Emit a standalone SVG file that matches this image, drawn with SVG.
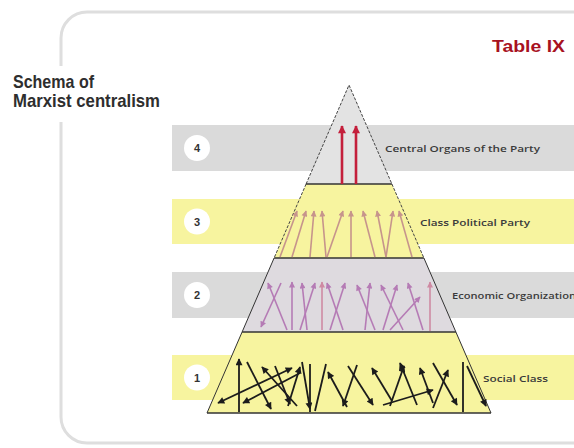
<svg xmlns="http://www.w3.org/2000/svg" width="574" height="448" viewBox="0 0 574 448">
  <style>
    .title { font-family: "Liberation Sans", Arial, sans-serif; font-weight: bold; font-size: 19px; fill: #2e2e2e; }
    .table { font-family: "Liberation Sans", Arial, sans-serif; font-weight: bold; font-size: 16px; fill: #a8121f; }
    .band-gray { fill: #dadada; }
    .band-yellow { fill: #f7f49f; }
    .num-bg { fill: #ffffff; }
    .num { font-family: "Liberation Sans", Arial, sans-serif; font-weight: bold; font-size: 11px; fill: #333; text-anchor: middle; }
    .label { font-family: "Open Sans", "Liberation Sans", Arial, sans-serif; font-weight: 600; font-size: 9.5px; fill: #3a3a3a; }
    .side { stroke: #444; stroke-width: 1; stroke-dasharray: 3 1.5; fill: none; }
    .side-solid { stroke: #333; stroke-width: 1; fill: none; }
    .rung { stroke: #333; stroke-width: 1.6; }
    .a-red { stroke: #c41f3b; stroke-width: 2.6; fill: none; marker-end: url(#h-red); }
    .a-tan { stroke: #c6948c; stroke-width: 1.6; fill: none; marker-end: url(#h-tan); }
    .a-orc { stroke: #b57bb5; stroke-width: 1.6; fill: none; marker-end: url(#h-orc); }
    .a-pnk { stroke: #cf8aa3; stroke-width: 1.6; fill: none; marker-end: url(#h-pnk); }
    .a-blk { stroke: #1c1c1c; stroke-width: 1.8; fill: none; marker-end: url(#h-blk); }
    .both { marker-start: url(#h-blk); }
    .plain { marker-end: none; }
  </style>
  <defs>
    <marker id="h-red" viewBox="0 0 10 10" refX="9" refY="5" markerWidth="10" markerHeight="8" markerUnits="userSpaceOnUse" orient="auto-start-reverse">
      <path d="M0,0 L10,5 L0,10 z" fill="#c41f3b"/>
    </marker>
    <marker id="h-tan" viewBox="0 0 10 10" refX="9" refY="5" markerWidth="8" markerHeight="6" markerUnits="userSpaceOnUse" orient="auto-start-reverse">
      <path d="M0,0 L10,5 L0,10 z" fill="#c6948c"/>
    </marker>
    <marker id="h-orc" viewBox="0 0 10 10" refX="9" refY="5" markerWidth="8" markerHeight="6" markerUnits="userSpaceOnUse" orient="auto-start-reverse">
      <path d="M0,0 L10,5 L0,10 z" fill="#b57bb5"/>
    </marker>
    <marker id="h-pnk" viewBox="0 0 10 10" refX="9" refY="5" markerWidth="8" markerHeight="6" markerUnits="userSpaceOnUse" orient="auto-start-reverse">
      <path d="M0,0 L10,5 L0,10 z" fill="#cf8aa3"/>
    </marker>
    <marker id="h-blk" viewBox="0 0 10 10" refX="9" refY="5" markerWidth="9" markerHeight="7" markerUnits="userSpaceOnUse" orient="auto-start-reverse">
      <path d="M0,0 L10,5 L0,10 z" fill="#1c1c1c"/>
    </marker>
  </defs>

  <rect width="574" height="448" fill="#ffffff"/>

  <!-- outer rounded frame -->
  <rect x="61" y="12" width="560" height="431" rx="26" fill="none" stroke="#dedede" stroke-width="3"/>

  <!-- heading -->
  <g id="title">
    <rect x="0" y="66" width="172" height="56" fill="#ffffff"/>
    <text class="title" x="13" y="88" textLength="81" lengthAdjust="spacingAndGlyphs">Schema of</text>
    <text class="title" x="13" y="107" textLength="147" lengthAdjust="spacingAndGlyphs">Marxist centralism</text>
  </g>

  <g id="table-label">
    <text class="table" x="492" y="52" textLength="73" lengthAdjust="spacingAndGlyphs">Table IX</text>
  </g>

  <!-- level 4 -->
  <g id="level-4">
    <rect class="band-gray" x="172" y="125" width="402" height="46"/>
    <circle class="num-bg" cx="197" cy="148" r="13"/>
    <text class="num" x="197" y="152">4</text>
    <text class="label" x="385" y="152" textLength="155" lengthAdjust="spacingAndGlyphs">Central Organs of the Party</text>
    <polygon points="349,85 391.9,184 306.1,184" fill="#e3e3e3"/>
    <path class="side" d="M306.1,184 L349,85 L391.9,184"/>
  </g>

  <!-- level 3 -->
  <g id="level-3">
    <rect class="band-yellow" x="172" y="199" width="402" height="45"/>
    <circle class="num-bg" cx="197" cy="221.5" r="13"/>
    <text class="num" x="197" y="225.5">3</text>
    <text class="label" x="420" y="225.5" textLength="110" lengthAdjust="spacingAndGlyphs">Class Political Party</text>
    <polygon points="306.1,184 391.9,184 423.9,258 274.1,258" fill="#f7f49f"/>
    <path class="side" d="M306.1,184 L274.1,258 M391.9,184 L423.9,258"/>
  </g>

  <!-- level 2 -->
  <g id="level-2">
    <rect class="band-gray" x="172" y="272" width="402" height="46"/>
    <circle class="num-bg" cx="197" cy="295" r="13"/>
    <text class="num" x="197" y="299">2</text>
    <text class="label" x="452" y="299" textLength="124" lengthAdjust="spacingAndGlyphs">Economic Organization</text>
    <polygon points="274.1,258 423.9,258 455.9,332 242.1,332" fill="#dedadf"/>
    <path class="side-solid" d="M274.1,258 L242.1,332 M423.9,258 L455.9,332"/>
  </g>

  <!-- level 1 -->
  <g id="level-1">
    <rect class="band-yellow" x="172" y="355" width="402" height="45"/>
    <circle class="num-bg" cx="197" cy="377.5" r="13"/>
    <text class="num" x="197" y="381.5">1</text>
    <text class="label" x="483" y="381.5" textLength="65" lengthAdjust="spacingAndGlyphs">Social Class</text>
    <polygon points="242.1,332 455.9,332 491,413 207,413" fill="#f7f49f"/>
    <path class="side-solid" d="M242.1,332 L207,413 M455.9,332 L491,413"/>
  </g>

  <!-- floor lines between levels -->
  <g id="floors">
    <line class="rung" x1="306.1" y1="184" x2="391.9" y2="184"/>
    <line class="rung" x1="274.1" y1="258" x2="423.9" y2="258"/>
    <line class="rung" x1="242.1" y1="332" x2="455.9" y2="332"/>
    <line class="rung" x1="207" y1="413" x2="491" y2="413" stroke-width="2"/>
  </g>

  <g id="connectors">
    <!-- central organs: two upward arrows -->
    <line class="a-red" x1="342" y1="184" x2="342" y2="126"/>
    <line class="a-red" x1="356" y1="184" x2="356" y2="126"/>

    <!-- class political party -->
    <line class="a-tan" x1="280" y1="257" x2="297" y2="211"/>
    <line class="a-tan" x1="292" y1="257" x2="306" y2="211"/>
    <line class="a-tan" x1="310" y1="257" x2="314" y2="211"/>
    <line class="a-tan" x1="326" y1="257" x2="322" y2="211"/>
    <line class="a-tan" x1="327" y1="257" x2="343" y2="211"/>
    <line class="a-tan" x1="351" y1="257" x2="351" y2="211"/>
    <line class="a-tan" x1="375" y1="257" x2="363" y2="211"/>
    <line class="a-tan" x1="386" y1="257" x2="377" y2="211"/>
    <line class="a-tan" x1="386" y1="257" x2="393" y2="211"/>
    <line class="a-tan" x1="412" y1="257" x2="399" y2="211"/>

    <!-- economic organizations -->
    <line class="a-orc" x1="287" y1="330" x2="268" y2="283"/>
    <line class="a-orc" x1="281" y1="283" x2="261" y2="327"/>
    <line class="a-orc" x1="292" y1="330" x2="292" y2="282"/>
    <line class="a-orc" x1="307" y1="330" x2="302" y2="283"/>
    <line class="a-orc" x1="300" y1="330" x2="315" y2="283"/>
    <line class="a-pnk" x1="322" y1="330" x2="322" y2="282"/>
    <line class="a-orc" x1="343" y1="330" x2="327" y2="283"/>
    <line class="a-orc" x1="330" y1="330" x2="345" y2="283"/>
    <line class="a-orc" x1="375" y1="330" x2="357" y2="285"/>
    <line class="a-orc" x1="365" y1="330" x2="370" y2="283"/>
    <line class="a-orc" x1="403" y1="330" x2="381" y2="285"/>
    <line class="a-orc" x1="383" y1="330" x2="397" y2="285"/>
    <line class="a-orc" x1="423" y1="330" x2="408" y2="283"/>
    <line class="a-orc" x1="390" y1="330" x2="420" y2="297"/>
    <line class="a-pnk" x1="430" y1="331" x2="430" y2="282"/>

    <!-- social class -->
    <line class="a-blk both" x1="292" y1="368" x2="218" y2="403"/>
    <line class="a-blk" x1="239" y1="412" x2="239" y2="359"/>
    <line class="a-blk" x1="247" y1="362" x2="271" y2="409"/>
    <line class="a-blk" x1="297" y1="406" x2="262" y2="367"/>
    <line class="a-blk" x1="300" y1="373" x2="243" y2="403"/>
    <line class="a-blk" x1="275" y1="366" x2="290" y2="404"/>
    <line class="a-blk" x1="288" y1="406" x2="300" y2="367"/>
    <line class="a-blk" x1="302" y1="362" x2="310" y2="409"/>
    <line class="a-blk plain" x1="310" y1="364" x2="310" y2="412"/>
    <line class="a-blk plain" x1="315" y1="411" x2="326" y2="364"/>
    <line class="a-blk" x1="347" y1="407" x2="328" y2="372"/>
    <line class="a-blk" x1="357" y1="365" x2="343" y2="406"/>
    <line class="a-blk" x1="348" y1="366" x2="373" y2="405"/>
    <line class="a-blk" x1="392" y1="401" x2="372" y2="368"/>
    <line class="a-blk" x1="417" y1="405" x2="400" y2="363"/>
    <line class="a-blk" x1="383" y1="405" x2="433" y2="390"/>
    <line class="a-blk" x1="390" y1="406" x2="404" y2="366"/>
    <line class="a-blk" x1="433" y1="403" x2="420" y2="368"/>
    <line class="a-blk" x1="433" y1="363" x2="457" y2="405"/>
    <line class="a-blk" x1="433" y1="408" x2="448" y2="370"/>
    <line class="a-blk plain" x1="463" y1="362" x2="463" y2="412"/>
    <line class="a-blk" x1="467" y1="366" x2="486" y2="406"/>
  </g>
</svg>
